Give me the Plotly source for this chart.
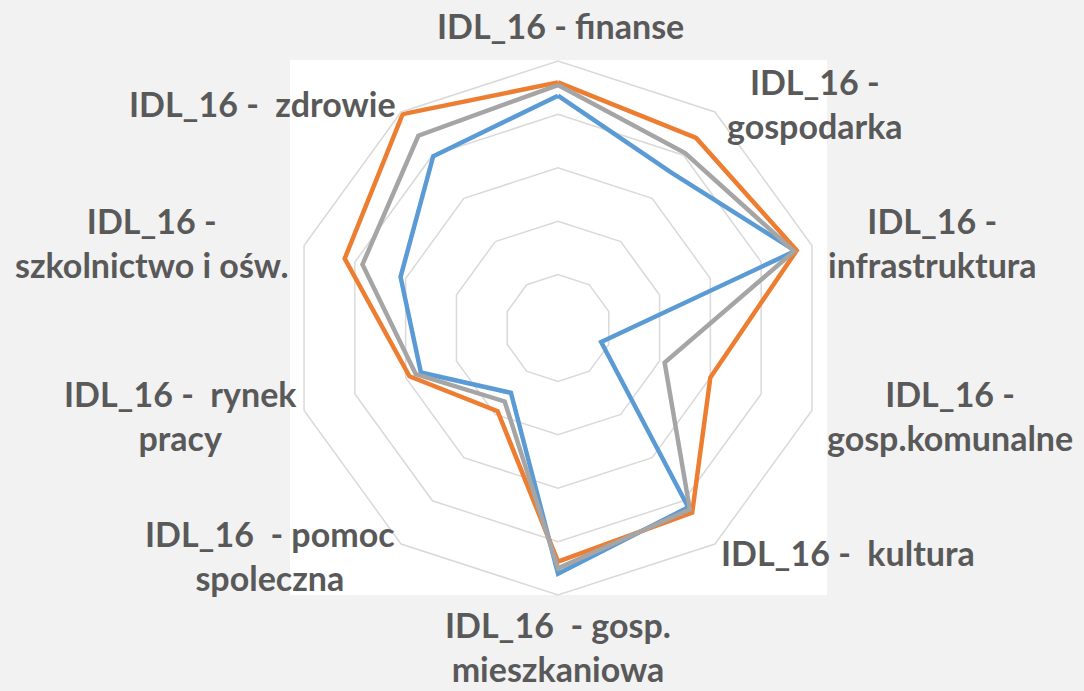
import plotly.graph_objects as go

categories = [
    "IDL_16 - finanse",
    "IDL_16 - gospodarka",
    "IDL_16 - infrastruktura",
    "IDL_16 - gosp.komunalne",
    "IDL_16 -  kultura",
    "IDL_16  - gosp. mieszkaniowa",
    "IDL_16  - pomoc spoleczna",
    "IDL_16 -  rynek pracy",
    "IDL_16 - szkolnictwo i ośw.",
    "IDL_16 -  zdrowie",
]
label_text = [
    "IDL_16 - finanse",
    "IDL_16 -<br>gospodarka",
    "IDL_16 -<br>infrastruktura",
    "IDL_16 -<br>gosp.komunalne",
    "IDL_16 -\u00a0 kultura",
    "IDL_16 \u00a0- gosp.<br>mieszkaniowa",
    "IDL_16 \u00a0- pomoc<br>spoleczna",
    "IDL_16 -\u00a0 rynek<br>pracy",
    "IDL_16 -<br>szkolnictwo i ośw.",
    "IDL_16 -\u00a0 zdrowie",
]
series_blue = [0.87, 0.72, 0.935, 0.17, 0.83, 0.92, 0.30, 0.54, 0.62, 0.795]
series_orange = [0.92, 0.88, 0.94, 0.60, 0.855, 0.875, 0.385, 0.585, 0.84, 0.99]
series_gray = [0.91, 0.81, 0.93, 0.42, 0.84, 0.90, 0.34, 0.56, 0.77, 0.89]

W, H = 1084, 691
# label centres in pixels (layout only)
label_pos = [(560, 25), (815, 103), (932, 242), (950, 415), (848, 552),
             (558, 646), (270, 555), (180, 415), (151, 242), (262, 103)]

fig = go.Figure()
for name, vals, col in [("Seria 1", series_blue, "#5B9BD5"),
                        ("Seria 2", series_orange, "#ED7D31"),
                        ("Seria 3", series_gray, "#A5A5A5")]:
    fig.add_trace(go.Scatterpolar(
        r=vals + vals[:1], theta=categories + categories[:1],
        mode="lines", name=name, line=dict(color=col, width=4.5),
        showlegend=False, hoverinfo="skip"))

cx, cy, R = 558, 328, 267
fig.update_layout(
    width=W, height=H, autosize=False,
    margin=dict(l=0, r=0, t=0, b=0),
    paper_bgcolor="#F2F2F2", plot_bgcolor="#F2F2F2",
    polar=dict(
        domain=dict(x=[(cx - R) / W, (cx + R) / W],
                    y=[(H - cy - R) / H, (H - cy + R) / H]),
        bgcolor="rgba(0,0,0,0)",
        gridshape="linear",
        angularaxis=dict(rotation=90, direction="clockwise",
                         showticklabels=False, ticks="", showgrid=False,
                         showline=True, linecolor="#D9D9D9", linewidth=1.5,
                         categoryorder="array", categoryarray=categories),
        radialaxis=dict(range=[0, 1], dtick=0.2, showticklabels=False,
                        ticks="", showline=False, showgrid=True,
                        gridcolor="#D9D9D9", gridwidth=1.5),
    ),
    shapes=[dict(type="rect", xref="paper", yref="paper", layer="below",
                 x0=290 / W, x1=827 / W, y0=(H - 595) / H, y1=(H - 60) / H,
                 fillcolor="white", line=dict(width=0))],
)
for txt, (px, py) in zip(label_text, label_pos):
    fig.add_annotation(x=px / W, y=1 - py / H, xref="paper", yref="paper",
                       text="<b>" + txt + "</b>", showarrow=False,
                       xanchor="center", yanchor="middle", align="center",
                       borderpad=0,
                       font=dict(family="Lato", size=34, color="#595959"))

fig.write_html(
    "out.html",
    config={"displayModeBar": False, "staticPlot": True},
    post_script="document.body.style.margin='0';"
                "document.body.style.background='#F2F2F2';",
)
